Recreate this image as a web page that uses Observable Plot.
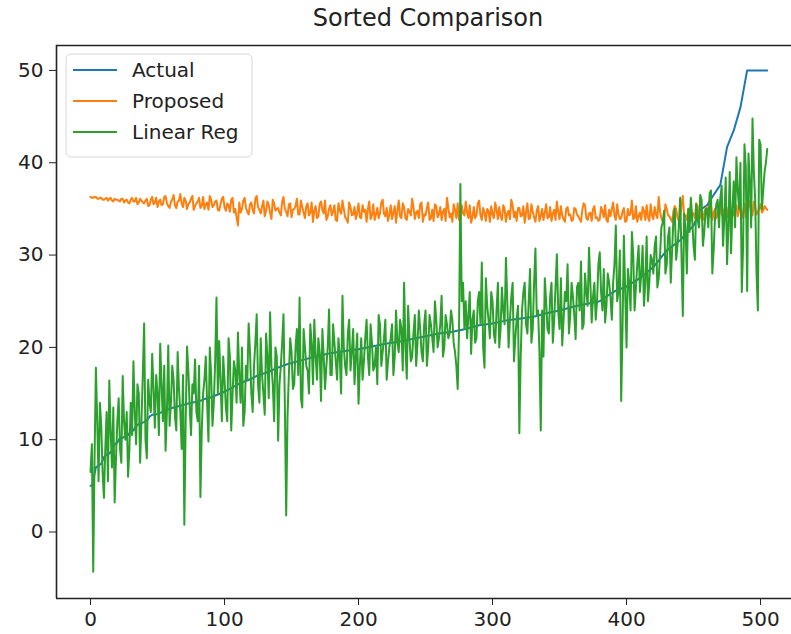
<!DOCTYPE html>
<html>
<head>
<meta charset="utf-8">
<script src="https://cdn.jsdelivr.net/npm/d3@7"></script>
<script src="https://cdn.jsdelivr.net/npm/@observablehq/plot@0.6"></script>
<style>
  html, body { margin: 0; padding: 0; background: #fff; }
  #wrap { position: relative; width: 791px; height: 634px; font-family: "DejaVu Sans", sans-serif; }
  #title { position: absolute; left: 56px; width: 744px; top: 0; height: 36px; line-height: 36px; text-align: center; font-size: 24px; color: #222; }
  #chart { position: absolute; left: 0; top: 36px; }
</style>
</head>
<body>
<div id="wrap">
  <div id="title">Sorted Comparison</div>
  <div id="chart"></div>
</div>
<script>
// ---- data ----
const seriesNames = ["Actual", "Proposed", "Linear Reg"];
const seriesColors = ["#1f77b4", "#ff7f0e", "#2ca02c"];
const xTicks = [0, 100, 200, 300, 400, 500];
const yTicks = [0, 10, 20, 30, 40, 50];

// Actual (sorted target) – sample index and value
const actualIdx = [0,1,2,3,4,6,8,10,12,14,16,18,20,22,24,26,28,30,32,34,36,38,40,42,44,46,48,50,
  55,60,65,70,75,80,85,90,95,100,105,110,115,120,125,130,135,140,145,150,
  160,170,180,190,200,210,220,230,240,250,260,270,280,290,300,310,320,330,340,350,
  360,370,380,390,400,410,420,430,440,450,455,460,465,470,475,480,485,490,505];
const actualVal = [5.0,5.0,5.6,6.3,7.0,7.2,7.4,8.1,8.4,8.5,8.8,9.5,9.7,10.2,10.2,10.4,10.5,10.9,11.0,11.5,11.7,11.8,11.9,12.1,12.5,12.7,12.7,12.8,
  13.1,13.4,13.6,13.8,14.0,14.1,14.4,14.6,14.9,15.2,15.6,16.0,16.3,16.6,17.0,17.2,17.5,17.8,18.1,18.3,
  18.7,19.1,19.4,19.6,19.8,20.1,20.4,20.6,20.9,21.2,21.5,21.7,22.0,22.4,22.6,22.9,23.1,23.3,23.7,24.0,
  24.4,24.7,25.0,26.0,26.6,27.5,28.7,30.5,31.6,33.2,34.9,35.4,36.5,37.6,41.7,43.5,46.0,50.0,50.0];

// Proposed – values at even samples (0, 2, ... 504) and odd samples (1, 3, ... 505)
const proposedEven = [
  36.3,36.2,36.3,36.1,36.2,36.0,36.2,36.1,35.9,36.1, 36.0,35.8,36.1,35.9,35.7,36.0,35.8,36.2,35.7,35.9,
  35.6,36.1,35.4,36.3,35.7,35.2,36.0,35.5,36.4,35.3, 35.8,36.5,35.1,35.9,35.6,36.2,35.0,35.7,36.4,35.3,
  35.8,35.1,36.3,35.5,34.9,36.0,35.4,35.9,34.8,36.1, 35.2,35.6,34.7,36.2,35.0,33.2,34.6,35.9,35.1,34.4,
  35.7,34.5,36.4,34.9,35.3,34.2,35.8,34.6,36.0,34.8, 35.1,34.3,36.3,34.7,35.5,34.1,35.0,36.1,34.4,35.2,
  34.0,35.6,34.6,33.6,35.3,34.2,35.8,34.5,33.8,35.0, 34.3,35.4,33.7,34.8,35.9,34.1,33.5,35.2,34.4,33.9,
  35.6,34.0,34.7,33.6,35.8,34.3,33.8,35.1,34.5,36.0, 34.2,33.7,35.4,34.6,33.5,35.9,34.0,35.2,33.8,34.7,
  36.1,33.9,34.8,35.5,33.6,34.3,35.7,34.0,33.7,35.3, 34.4,33.8,35.0,36.2,34.1,33.6,34.9,35.6,33.9,34.5,
  35.8,34.0,33.5,35.2,34.3,35.9,33.8,34.6,35.0,33.6, 34.4,35.7,33.9,34.2,35.4,33.6,34.8,36.0,34.1,33.7,
  35.1,34.3,33.5,35.6,34.0,34.7,33.6,35.3,34.2,33.8, 35.5,34.1,33.7,34.9,35.8,33.9,34.3,33.6,35.2,34.4,
  33.8,35.0,34.2,33.6,35.6,34.0,34.5,33.7,35.3,34.1, 33.9,34.8,35.4,33.6,34.2,35.7,33.8,34.4,34.0,35.1,
  33.7,34.3,35.9,34.0,33.6,34.6,35.2,33.8,34.1,35.5, 33.9,34.4,36.3,34.0,33.7,35.0,34.2,33.6,35.3,34.1,
  33.8,36.4,34.3,34.9,33.7,34.5,35.6,34.0,33.9,34.6, 35.2,34.1,33.8,35.0,34.4,35.8,34.2,33.9,35.1,34.6,
  34.3,35.4,34.8,34.0,35.6,34.5,35.9,34.3,35.2,34.7, 35.5,34.8,35.1];
const proposedOdd = [
  36.2,36.3,36.1,36.2,36.0,36.1,35.9,36.2,35.8,36.0, 35.9,36.1,35.7,36.0,35.6,36.2,35.8,35.5,36.1,35.7,
  35.9,35.3,36.0,35.5,36.2,35.8,35.4,36.3,35.6,35.1, 36.0,35.4,35.8,36.6,35.2,35.9,35.5,36.1,34.9,35.6,
  36.2,35.3,35.0,35.7,36.4,35.2,35.8,34.9,35.5,36.3, 34.8,35.4,36.0,34.6,34.1,35.7,35.0,36.2,34.7,35.5,
  34.9,36.1,35.2,34.5,35.9,34.8,35.4,33.9,35.6,35.0, 34.6,35.8,35.0,34.2,35.6,34.9,35.3,34.4,35.9,34.6,
  35.3,34.3,35.7,34.8,34.0,35.5,34.9,35.9,34.2,35.4, 34.7,33.8,35.6,34.5,35.0,33.9,35.7,34.3,35.2,34.6,
  34.1,35.4,34.9,35.0,33.9,35.5,34.4,34.0,35.7,34.5, 35.1,34.4,33.9,35.3,34.8,34.2,35.6,34.0,35.0,34.3,
  35.2,34.6,34.0,35.7,34.4,35.1,33.8,34.9,35.5,34.1, 35.2,34.7,33.7,35.1,34.5,35.5,34.0,33.8,35.4,34.3,
  34.6,35.4,34.1,34.0,35.6,34.3,35.1,33.7,34.8,35.3, 34.0,34.9,35.2,33.8,35.0,34.5,33.9,35.4,34.7,35.1,
  34.2,35.3,34.6,33.9,35.5,34.1,34.8,33.7,35.0,34.6, 34.0,35.2,34.5,33.8,34.7,35.3,33.9,35.0,34.3,33.7,
  35.1,34.4,33.9,34.9,35.4,33.8,34.6,35.0,34.0,33.7, 35.2,34.1,33.8,34.9,35.0,34.3,35.5,33.9,34.7,33.6,
  35.0,34.5,33.9,35.3,34.2,33.8,34.8,35.4,33.7,34.3, 35.2,34.0,34.7,33.6,35.5,34.3,33.9,34.8,35.0,33.7,
  35.4,34.2,33.8,35.1,34.6,34.0,35.3,34.5,33.8,35.0, 34.3,35.5,34.6,34.0,35.2,34.4,35.0,34.1,35.6,34.8,
  35.0,34.2,35.4,34.6,34.1,35.3,34.5,35.8,34.4,35.0, 34.6,35.3,34.9];

// Linear Reg – values at even samples (0, 2, ... 504) and odd samples (1, 3, ... 505)
const linregEven = [
  6.5,-4.3,17.8,5.5,11.5, 3.7,13,16.4,7,3.2, 12,9,16.9,10,6, 14,18.5,9.5,15,12,
  22.6,8,14,19.3,11.3, 15,20.4,12,8.8,20.2, 14,16.4,11,15.5,9, 0.8,20.1,13.5,16,18.7,
  12,3.8,15,19,9.8, 17,14,25.4,20.7,12, 16.5,12,19,15,17.5, 21.6,14,11.5,18,22.6,
  15,18,23.6,14,17, 12.7,19,23.8,16,20, 9.9,18,23.6,1.8,17, 19.5,16,22,25.4,13.5,
  20,17.5,22.5,16,19, 21,14.2,19,18,24.1, 17,20.5,16.5,19,25.6, 18,21.5,17.5,22,19,
  13.9,21,18.5,23,17, 20.5,18,16,22.5,19.5, 23,18.5,21,17,24, 19.5,22,27,16.6,21,
  19,23.5,20.5,22,18.5, 24,20,22.5,19.5,23, 21,25.6,20,22.5,21.5, 23,19.5,15.5,37.7,27,
  25,23.5,19.3,24,21, 26,29.2,17.8,24.5,21, 25,20.5,27,22,24, 29.7,20,25.5,18.5,23,
  10.7,24,27,21.5,28.5, 22,30.7,24,11,19, 25,21.5,27,23,30.1, 22,20.2,26,29,23.5,
  25.5,20.9,27,29.3,22.5, 26,30.8,22.7,27,25, 30.3,24,22.7,28,25.5, 27,33.2,26,14.2,32.1,
  20,27,32.5,24,29, 26,31,27,25,30, 28,32,27.5,33,34.8, 29,33,30.5,35,31,
  36.2,23.4,33,35,36.2, 31,35.5,33,36,32.5, 35,36.7,28,34,36, 36.2,31,38.4,33,30.2,
  38,40.6,35,26,42, 26.1,38,44.8,36,24, 42,37,40];
const linregOdd = [
  9.5,8,12,14,6.5, 9,5.5,11,13.5,8, 14.5,7.5,12,13,9, 10.5,13,16,7.5,17,
  10,16.5,13,15.5,17, 10.5,16,18,13,11.5, 18,12.5,19.5,13,17, 12,17.5,10.5,15,13,
  18,11,16.5,14,20, 11.5,18.5,15,16.5,19, 13.5,21,11,18.5,14, 17,20,13,16.5,19.5,
  13,20.5,16,21,15, 21.5,14.5,18,12,19, 16,20.5,14,12.5,21, 15.5,20,17,14.5,22,
  18,15,20.5,23,16.5, 19.5,22,15.5,20,17, 22.5,18.5,21,15,20, 17,23,19.5,16,21.5,
  18,16.5,21,19,22.5, 17.5,20,23.5,18,21, 16.5,20,22.5,19,20.5, 23,17.5,20,24.5,18.5,
  21.5,18,24,19.5,22.5, 18,23.5,21,25,20, 22.5,19,23.5,21,24, 20.5,18,22,25,22,
  21,26,23,20.5,25, 22.5,20,27.5,23,26, 21.5,24,20,26.5,22.5, 25,23,27,21,24.5,
  19,26,22.5,25,20.5, 27,23.5,19.5,24,27.5, 22,25.5,20.5,26.5,24, 27.5,23,25,21.5,27,
  23.5,26.5,24,22,28, 24.5,27,25.5,23,29, 26,28.5,24.5,27,23, 29,25,30.5,22,26,
  28.5,24,30,26.5,31, 28,24.5,32,27,29.5, 31,26.5,30,33.5,28, 32,27,34,29.5,33,
  30,34.5,28,32.5,34, 29.5,34,36.5,31,35, 33,37,30.5,35.5,33, 37.5,34,29,39,35,
  33,37,40,31,39.5, 41,33,39,28,42.5, 35,39,41.5];

// ---- build tidy rows for the library ----
function interleave(name, even, odd) {
  const out = [];
  even.forEach((y, i) => {
    out.push({series: name, x: 2 * i, y});
    if (i < odd.length) out.push({series: name, x: 2 * i + 1, y: odd[i]});
  });
  return out;
}
const rows = [];
actualIdx.forEach((x, i) => rows.push({series: seriesNames[0], x, y: actualVal[i]}));
rows.push(...interleave(seriesNames[1], proposedEven, proposedOdd));
rows.push(...interleave(seriesNames[2], linregEven, linregOdd));

const xDomain = [-25.4, 523.1];
const yDomain = [-7.2, 52.7];

const chart = Plot.plot({
  width: 791,
  height: 598,
  marginLeft: 56,
  marginRight: 0,
  marginTop: 9,
  marginBottom: 36,
  style: {fontFamily: "DejaVu Sans, sans-serif", fontSize: "20px", color: "#222", background: "#fff"},
  x: {domain: xDomain, label: null},
  y: {domain: yDomain, label: null},
  color: {domain: seriesNames, range: seriesColors},
  marks: [
    Plot.line(rows, {x: "x", y: "y", z: "series", stroke: "series", strokeWidth: 2}),
    Plot.ruleX([xDomain[0]], {stroke: "#222", strokeWidth: 1.6}),
    Plot.ruleY(yDomain, {stroke: "#222", strokeWidth: 1.6}),
    Plot.axisX({ticks: xTicks, tickSize: 7, tickPadding: 6, fontSize: 20, stroke: "#222", label: null}),
    Plot.axisY({ticks: yTicks, tickSize: 7, tickPadding: 6, fontSize: 20, stroke: "#222", label: null})
  ]
});
document.getElementById("chart").appendChild(chart);

// ---- legend (inside the axes, upper left) ----
const svg = d3.select(chart);
const lg = svg.append("g").attr("transform", "translate(66,18)").attr("text-anchor", "start");
lg.append("rect").attr("width", 186).attr("height", 103).attr("rx", 5)
  .attr("fill", "#fff").attr("fill-opacity", 0.85).attr("stroke", "#d6d6d6");
seriesNames.forEach((name, i) => {
  const cy = 16 + i * 31;
  lg.append("line").attr("x1", 7).attr("x2", 51).attr("y1", cy).attr("y2", cy)
    .attr("stroke", seriesColors[i]).attr("stroke-width", 2.2);
  lg.append("text").attr("x", 66).attr("y", cy).attr("dy", "0.35em")
    .attr("text-anchor", "start").attr("font-size", 20).attr("fill", "#222").text(name);
});
</script>
</body>
</html>
